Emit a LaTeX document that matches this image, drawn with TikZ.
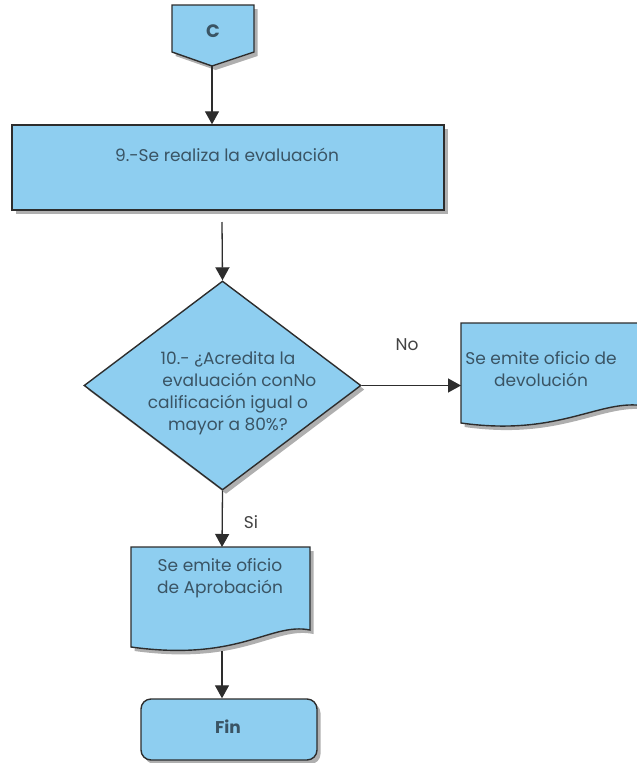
\documentclass[tikz,border=0pt]{standalone}
\usepackage{fontspec}
\setmainfont{Poppins}
\usetikzlibrary{shapes.geometric,arrows.meta,shadows}
\definecolor{boxfill}{RGB}{142,206,240}
\definecolor{txt}{RGB}{58,84,100}
\definecolor{edge}{RGB}{45,45,45}
\definecolor{shade}{RGB}{175,175,175}
\begin{document}
\begin{tikzpicture}[x=1pt,y=-1pt,
  flow/.style={draw=edge,line width=1.4pt,fill=boxfill,
    drop shadow={shadow xshift=3.5pt,shadow yshift=-4pt,fill=shade,opacity=1}},
  lbl/.style={text=txt,font=\fontsize{17}{22}\selectfont,align=center,inner sep=0pt},
  tag/.style={text=edge!90,font=\fontsize{17}{20}\selectfont,inner sep=0pt},
  conn/.style={draw=edge,line width=1.3pt,-{Triangle[length=13pt,width=14pt]}}]
\useasboundingbox (0,0) rectangle (637,763);

% off-page connector C
\draw[flow] (172,5) -- (254,5) -- (254,52) -- (212,66) -- (172,52) -- cycle;
\node[lbl,font=\fontsize{18}{20}\selectfont\bfseries] (c) at (213,31) {C};
\coordinate (cbot) at (212,66);

% step 9
\node[flow,rectangle,minimum width=432pt,minimum height=85pt,inner sep=0pt] (r9) at (228,167.5) {};
\node[lbl] (t9) at (227,155) {9.-Se realiza la evaluación};
\coordinate (r9out) at (222,222);

% decision 10
\node[flow,diamond,minimum width=277pt,minimum height=209pt,inner sep=0pt] (d) at (222.5,385.5) {};
\node[lbl] (td) at (228,393) {10.- ¿Acredita la\\evaluación con\rlap{No}\\calificación igual o\\mayor a 80\%?};

% document: devolucion
\draw[flow] (461,323) -- (645,323) -- (645,406)
  .. controls (600,398) and (560,437) .. (461,423) -- cycle;
\coordinate (dvw) at (461,385.5);
\node[lbl] (tdv) at (541,369) {Se emite oficio de\\devolución};

% document: aprobacion
\draw[flow] (131,547) -- (310,547) -- (310,630)
  .. controls (270,622) and (240,662) .. (131,647) -- cycle;
\coordinate (apt) at (222,547);
\coordinate (apb) at (222,651);
\node[lbl] (tap) at (220,578) {Se emite oficio\\de Aprobación};

% end
\node[flow,rectangle,rounded corners=10pt,minimum width=176pt,minimum height=61pt,inner sep=0pt] (fin) at (229,729.5) {};
\node[lbl,font=\fontsize{17}{20}\selectfont\bfseries] (tfin) at (228,727) {Fin};

% connectors
\draw[conn] (cbot) -- (cbot |- r9.north);
\draw[conn] (r9out) -- (d.north);
\draw[conn] (d.east) -- (d.east -| dvw);
\node[tag] (no) at (407,345) {No};
\draw[conn] (d.south) -- (apt);
\node[tag] (si) at (251,522) {Si};
\draw[conn] (apb) -- (apb |- fin.north);
\end{tikzpicture}
\end{document}
